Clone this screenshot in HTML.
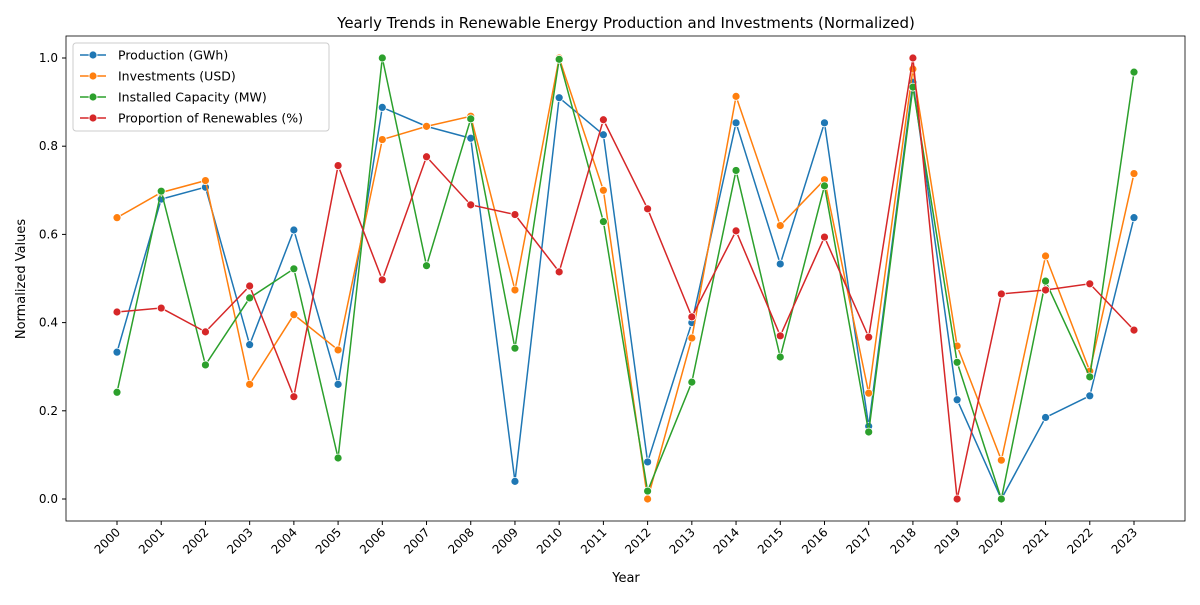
<!DOCTYPE html>
<html><head><meta charset="utf-8"><style>
body{margin:0;background:#fff;font-family:"Liberation Sans","DejaVu Sans",sans-serif}
svg text{font-family:"DejaVu Sans","Liberation Sans",sans-serif;fill:#000}
</style></head><body>
<svg id="chart" width="1200" height="600" xmlns="http://www.w3.org/2000/svg">
<rect width="1200" height="600" fill="#fff"/>
<text x="626" y="28" font-size="15" text-anchor="middle">Yearly Trends in Renewable Energy Production and Investments (Normalized)</text>
<g id="grid"></g>
<rect x="66" y="36" width="1119" height="485" fill="none" stroke="#000" stroke-width="0.8"/>
<text x="626" y="582" font-size="13" text-anchor="middle">Year</text>
<text x="25" y="279" font-size="13" text-anchor="middle" transform="rotate(-90 25 279)">Normalized Values</text>
<g id="series"></g>
<g id="legend"></g>
</svg>
<script>
const years=[2000,2001,2002,2003,2004,2005,2006,2007,2008,2009,2010,2011,2012,2013,2014,2015,2016,2017,2018,2019,2020,2021,2022,2023];
const production=[0.333,0.68,0.707,0.35,0.61,0.26,0.888,0.845,0.818,0.04,0.91,0.826,0.084,0.4,0.853,0.533,0.853,0.165,0.945,0.225,0.0,0.185,0.234,0.638];
const investments=[0.638,0.695,0.722,0.26,0.418,0.338,0.815,0.845,0.868,0.474,1.0,0.70,0.0,0.365,0.913,0.62,0.724,0.24,0.975,0.347,0.088,0.551,0.29,0.738];
const capacity=[0.242,0.698,0.304,0.456,0.522,0.093,1.0,0.529,0.862,0.342,0.997,0.629,0.018,0.265,0.745,0.322,0.71,0.152,0.934,0.31,0.0,0.494,0.277,0.968];
const proportion=[0.424,0.433,0.379,0.483,0.232,0.756,0.497,0.776,0.667,0.645,0.515,0.86,0.658,0.413,0.608,0.37,0.594,0.367,1.0,0.0,0.465,0.474,0.488,0.383];
const yTicks=[0,0.2,0.4,0.6,0.8,1.0];
const seriesNames=["Production (GWh)","Investments (USD)","Installed Capacity (MW)","Proportion of Renewables (%)"];
const colors=["#1f77b4","#ff7f0e","#2ca02c","#d62728"];
const NS="http://www.w3.org/2000/svg";
const xS=i=>117+i*(1134-117)/(years.length-1);
const yS=v=>499-v*441;
function mk(t,a,p){const e=document.createElementNS(NS,t);for(const k in a)e.setAttribute(k,a[k]);p.appendChild(e);return e;}
const grid=document.getElementById('grid');
yTicks.forEach(v=>{
 const l=mk('line',{x1:62,x2:66,y1:yS(v),y2:yS(v),stroke:'#000'},grid);
 
 
 const t=mk('text',{x:58,y:yS(v)+4,'font-size':12,'text-anchor':'end'},grid);
 
 
 t.textContent=v.toFixed(1);
});
years.forEach((y,i)=>{
 const x=xS(i);
 const l=mk('line',{x1:x,x2:x,y1:521,y2:525,stroke:'#000'},grid);
 
 
 const t=mk('text',{x:x+4,y:533,'font-size':12,'text-anchor':'end',transform:`rotate(-45 ${x+4} 533)`},grid);
 
 
 t.textContent=y;
});
const sg=document.getElementById('series');
[production,investments,capacity,proportion].forEach((d,si)=>{
 const g=mk('g',{},sg);
 
 
 const p=mk('polyline',{points:d.map((v,i)=>xS(i)+','+yS(v)).join(' '),fill:'none',stroke:colors[si],'stroke-width':1.5},g);
 
 
 d.forEach((v,i)=>{
  const c=mk('circle',{cx:xS(i),cy:yS(v),r:4,fill:colors[si],stroke:'#fff','stroke-width':0.8},g);
  
  
 });
});
const lg=document.getElementById('legend');
const box=mk('rect',{x:73,y:43,width:256,height:88,rx:3,fill:'#fff',stroke:'#ccc','fill-opacity':0.8},lg);


seriesNames.forEach((n,i)=>{
 const y=55+i*21;
 const g=mk('g',{},lg);
 
 
 mk('line',{x1:80,x2:106,y1:y,y2:y,stroke:colors[i],'stroke-width':1.5},g);
 mk('circle',{cx:93,cy:y,r:4,fill:colors[i],stroke:'#fff','stroke-width':0.8},g);
 const t=mk('text',{x:118,y:y+4.5,'font-size':12.5},g);
 t.textContent=n;
});
</script>
</body></html>
